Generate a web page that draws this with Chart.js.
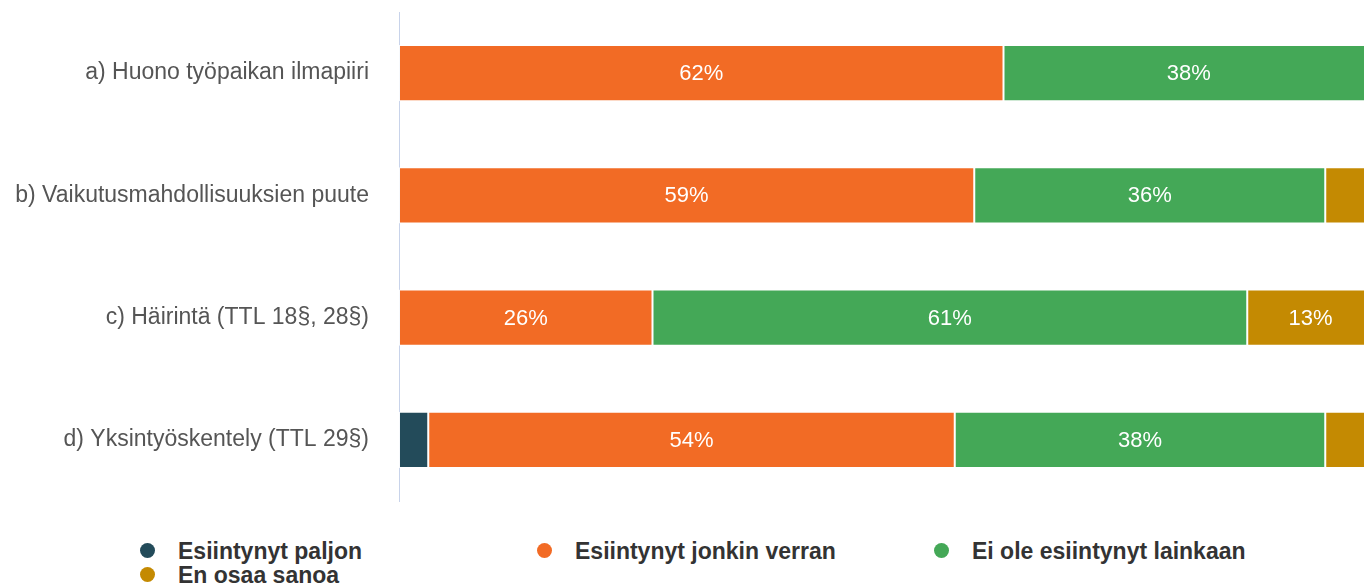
<!DOCTYPE html>
<html>
<head>
<meta charset="utf-8">
<script src="https://cdn.jsdelivr.net/npm/chart.js@4.4.1/dist/chart.umd.min.js"></script>
<style>
  html, body { margin: 0; padding: 0; background: #fff; overflow: hidden; }
  #wrap { position: relative; width: 1364px; height: 588px; overflow: hidden; }
  #chart { position: absolute; left: 0; top: 0; }
  .legend-item {
    position: absolute;
    font-family: "Liberation Sans", Arial, sans-serif;
    font-weight: bold;
    font-size: 23px;
    line-height: 24px;
    color: #333;
    white-space: nowrap;
  }
  .legend-item span.dot {
    position: absolute;
    left: -38px;
    top: 4px;
    width: 15px;
    height: 15px;
    border-radius: 50%;
  }
</style>
</head>
<body>
<div id="wrap">
  <canvas id="chart" width="1374" height="510"></canvas>
  <div id="legend"></div>
</div>
<script>
// kategoriat ja sarjat
const categories = [
  'a) Huono työpaikan ilmapiiri',
  'b) Vaikutusmahdollisuuksien puute',
  'c) Häirintä (TTL 18§, 28§)',
  'd) Yksintyöskentely (TTL 29§)'
];
const seriesNames = ['Esiintynyt paljon', 'Esiintynyt jonkin verran', 'Ei ole esiintynyt lainkaan', 'En osaa sanoa'];
const seriesColors = ['#234b5a', '#f26b25', '#44a857', '#c48a02'];

const paljon = [0, 0, 0, 3];
const jonkinVerran = [62, 59, 26, 54];
const eiLainkaan = [38, 36, 61, 38];
const enOsaa = [0, 5, 13, 5];

const seriesValues = [paljon, jonkinVerran, eiLainkaan, enOsaa];

// prosenttitekstit palkkien sisään (vain isoille osuuksille)
const barLabels = {
  id: 'barLabels',
  afterDatasetsDraw(chart) {
    const ctx = chart.ctx;
    ctx.save();
    ctx.font = '22px "Liberation Sans", Arial, sans-serif';
    ctx.fillStyle = '#ffffff';
    ctx.textAlign = 'center';
    ctx.textBaseline = 'middle';
    chart.data.datasets.forEach((ds, i) => {
      const meta = chart.getDatasetMeta(i);
      meta.data.forEach((bar, j) => {
        const v = ds.data[j];
        if (v < 10) return;
        const x = (bar.base + bar.x) / 2;
        ctx.fillText(v + '%', x, bar.y + 1);
      });
    });
    ctx.restore();
  }
};

const datasets = seriesNames.map((name, i) => ({
  label: name,
  data: seriesValues[i],
  backgroundColor: seriesColors[i],
  borderColor: 'rgba(255,255,255,0.85)',
  borderWidth: 1,
  borderSkipped: false,
  barPercentage: 0.92,
  categoryPercentage: 0.5
}));

new Chart(document.getElementById('chart'), {
  type: 'bar',
  data: { labels: categories, datasets: datasets },
  plugins: [barLabels],
  options: {
    indexAxis: 'y',
    responsive: false,
    animation: false,
    devicePixelRatio: 1,
    layout: { padding: { top: 12, bottom: 9, left: 0, right: 0 } },
    plugins: {
      legend: { display: false },
      tooltip: { enabled: false }
    },
    scales: {
      x: {
        stacked: true,
        min: 0,
        max: 100,
        display: false
      },
      y: {
        stacked: true,
        grid: { display: false, drawTicks: false, tickLength: 0 },
        border: { display: true, color: '#c8d3ea', width: 1 },
        ticks: {
          color: '#555',
          padding: 30,
          font: { family: '"Liberation Sans", Arial, sans-serif', size: 23 }
        },
        afterFit(scale) {
          scale.width = 399;
          // ei ylimääräistä tilaa ylä- ja alareunaan
          scale.paddingTop = 0;
          scale.paddingBottom = 0;
        }
      }
    }
  }
});

// legenda html:nä, kolme saraketta
const legendEl = document.getElementById('legend');
const legendPos = [[178, 539], [575, 539], [972, 539], [178, 563]];
seriesNames.forEach((name, i) => {
  const item = document.createElement('div');
  item.className = 'legend-item';
  item.style.left = legendPos[i][0] + 'px';
  item.style.top = legendPos[i][1] + 'px';
  const dot = document.createElement('span');
  dot.className = 'dot';
  dot.style.background = seriesColors[i];
  item.appendChild(dot);
  item.appendChild(document.createTextNode(name));
  legendEl.appendChild(item);
});
</script>
</body>
</html>
